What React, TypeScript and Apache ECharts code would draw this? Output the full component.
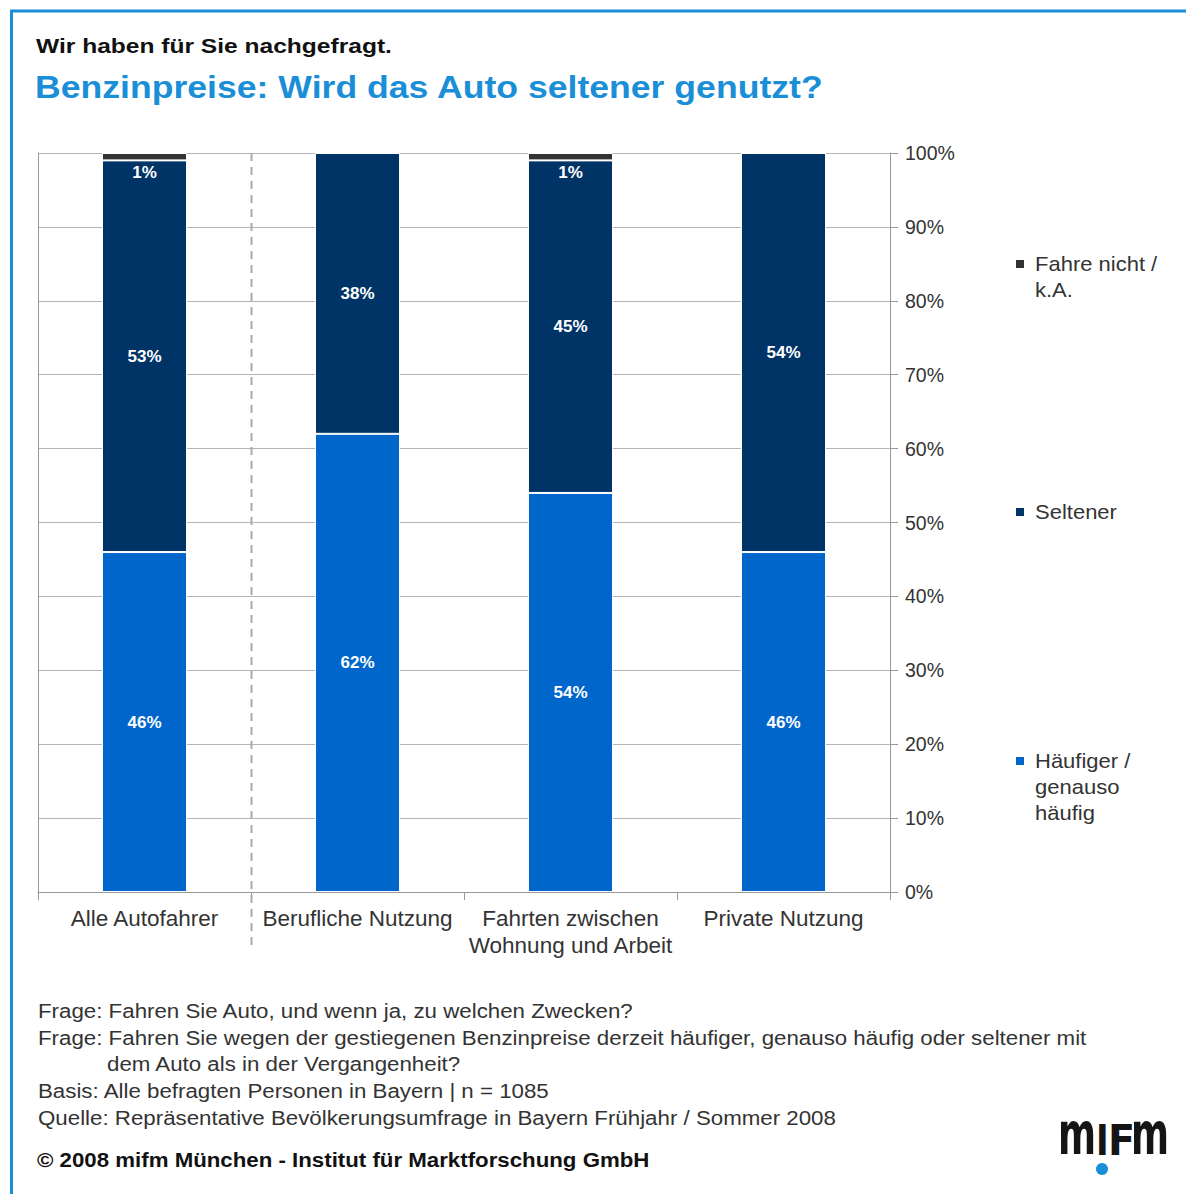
import React, { useEffect, useRef } from "react";
import * as echarts from "echarts";

const categories = [
  "Alle Autofahrer",
  "Berufliche Nutzung",
  "Fahrten zwischen\nWohnung und Arbeit",
  "Private Nutzung",
];
const haeufiger = [46, 62, 54, 46];
const seltener = [53, 38, 45, 54];
const fahreNicht = [1, 0, 1, 0];
const seriesNames = ["Häufiger / genauso häufig", "Seltener", "Fahre nicht / k.A."];
const legendLabels = ["Fahre nicht /\nk.A.", "Seltener", "Häufiger /\ngenauso\nhäufig"];
const footerLines = [
  "Frage: Fahren Sie Auto, und wenn ja, zu welchen Zwecken?",
  "Frage: Fahren Sie wegen der gestiegenen Benzinpreise derzeit häufiger, genauso häufig oder seltener mit",
  "dem Auto als in der Vergangenheit?",
  "Basis: Alle befragten Personen in Bayern | n = 1085",
  "Quelle: Repräsentative Bevölkerungsumfrage in Bayern Frühjahr / Sommer 2008",
];

const FONT = "'Liberation Sans', Arial, sans-serif";
const NARROW = "'Liberation Sans Narrow', 'DejaVu Sans Condensed', sans-serif";
const C_LIGHT = "#0066cc";
const C_DARK = "#003366";
const C_BLACK = "#333333";
const C_TITLE = "#1a8fd8";

export default function App() {
  const ref = useRef<HTMLDivElement>(null);
  useEffect(() => {
    if (!ref.current) return;
    const chart = echarts.init(ref.current, null, { renderer: "svg" });
    const labelStyle = {
      show: true,
      color: "#fff",
      fontWeight: "bold" as const,
      fontSize: 17,
      fontFamily: FONT,
      formatter: (p: any) => (p.value > 0 ? p.value + "%" : ""),
    };
    const txt = (text: string, x: number, y: number, size: number, sx: number, extra: any = {}) => ({
      type: "text",
      x,
      y,
      scaleX: sx,
      style: {
        text,
        fontSize: size,
        fill: "#333",
        fontFamily: FONT,
        verticalAlign: "top",
        ...extra,
      },
    });
    const footer: any[] = footerLines.map((t, i) =>
      txt(t, i === 2 ? 107 : 38, 1001 + [0, 27, 53, 80, 107][i], 20, 1.115)
    );
    const legendColors = [C_BLACK, C_DARK, C_LIGHT];
    const legendY = [251, 499, 748];
    const legendGraphics: any[] = [];
    legendLabels.forEach((t, i) => {
      legendGraphics.push({
        type: "rect",
        shape: { x: 1016, y: legendY[i] + 9, width: 8, height: 8 },
        style: { fill: legendColors[i] },
      });
      legendGraphics.push(txt(t, 1035, legendY[i], 20, 1.1, { lineHeight: 26 }));
    });
    const logoLetters = [
      { t: "m", x: 1058, size: 58, sx: 0.7, y: 1105 },
      { t: "I", x: 1096, size: 42, sx: 0.9, y: 1119 },
      { t: "F", x: 1108, size: 42, sx: 1.05, y: 1119 },
      { t: "m", x: 1131, size: 58, sx: 0.7, y: 1105 },
    ];
    const logo: any[] = logoLetters.map((l) => ({
      type: "text",
      x: l.x,
      y: l.y,
      scaleX: l.sx,
      style: {
        text: l.t,
        fontSize: l.size,
        fontWeight: "bold",
        fill: "#151515",
        fontFamily: NARROW,
        verticalAlign: "top",
      },
    }));

    chart.setOption({
      animation: false,
      backgroundColor: "#fff",
      grid: { left: 38, right: 296, top: 153, bottom: 302 },
      xAxis: {
        type: "category",
        data: categories,
        axisLine: { show: true, lineStyle: { color: "#999", width: 1 } },
        axisTick: { show: true, length: 8, lineStyle: { color: "#999" } },
        axisLabel: {
          interval: 0,
          fontSize: 22.5,
          color: "#333",
          fontFamily: FONT,
          margin: 13,
          lineHeight: 27,
        },
      },
      yAxis: [
        {
          type: "value",
          position: "right",
          min: 0,
          max: 100,
          interval: 10,
          axisLine: { show: true, lineStyle: { color: "#999" } },
          axisTick: { show: true, length: 8, lineStyle: { color: "#999" } },
          axisLabel: { formatter: "{value}%", fontSize: 19.5, color: "#333", fontFamily: FONT, margin: 15 },
          splitLine: { show: true, lineStyle: { color: "#b5b5b5", width: 1 } },
        },
        {
          type: "value",
          position: "left",
          min: 0,
          max: 100,
          interval: 10,
          axisLine: { show: true, lineStyle: { color: "#999" } },
          axisTick: { show: false },
          axisLabel: { show: false },
          splitLine: { show: false },
        },
      ],
      series: [
        {
          name: seriesNames[0],
          type: "bar",
          stack: "a",
          data: haeufiger,
          barWidth: 85,
          itemStyle: { color: C_LIGHT, borderColor: "#fff", borderWidth: 1 },
          label: { ...labelStyle, position: "inside" },
        },
        {
          name: seriesNames[1],
          type: "bar",
          stack: "a",
          data: seltener,
          barWidth: 85,
          itemStyle: { color: C_DARK, borderColor: "#fff", borderWidth: 1 },
          label: { ...labelStyle, position: "inside" },
        },
        {
          name: seriesNames[2],
          type: "bar",
          stack: "a",
          data: fahreNicht,
          barWidth: 85,
          itemStyle: { color: C_BLACK, borderColor: "#fff", borderWidth: 1 },
          label: { ...labelStyle, position: "bottom", distance: 4 },
        },
      ],
      graphic: [
        { type: "line", shape: { x1: 10, y1: 11, x2: 1186, y2: 11 }, style: { stroke: C_TITLE, lineWidth: 3 } },
        { type: "line", shape: { x1: 11.5, y1: 10, x2: 11.5, y2: 1194 }, style: { stroke: C_TITLE, lineWidth: 3 } },
        txt("Wir haben für Sie nachgefragt.", 36, 35, 21, 1.17, { fontWeight: "bold", fill: "#111" }),
        txt("Benzinpreise: Wird das Auto seltener genutzt?", 35, 71, 32, 1.113, {
          fontWeight: "bold",
          fill: C_TITLE,
        }),
        ...legendGraphics,
        ...footer,
        txt("© 2008 mifm München - Institut für Marktforschung GmbH", 37, 1150, 20, 1.113, {
          fontWeight: "bold",
          fill: "#111",
        }),
        ...logo,
        { type: "circle", shape: { cx: 1102, cy: 1169, r: 6 }, style: { fill: C_TITLE } },
      ],
    });

    const p0 = chart.convertToPixel({ xAxisIndex: 0 }, 0) as number;
    const p1 = chart.convertToPixel({ xAxisIndex: 0 }, 1) as number;
    const yTop = chart.convertToPixel({ yAxisIndex: 0 }, 100) as number;
    const yBot = (chart.convertToPixel({ yAxisIndex: 0 }, 0) as number) + 53;
    const xb = Math.round((p0 + p1) / 2) + 0.5;
    chart.setOption({
      graphic: [
        {
          id: "sep",
          type: "line",
          shape: { x1: xb, y1: yTop, x2: xb, y2: yBot },
          style: { stroke: "#aaa", lineWidth: 2, lineDash: [8, 6] },
          z: 10,
        },
      ],
    });

    return () => chart.dispose();
  }, []);
  return (
    <div
      ref={ref}
      style={{ position: "absolute", left: 0, top: 0, width: 1186, height: 1194 }}
    />
  );
}
